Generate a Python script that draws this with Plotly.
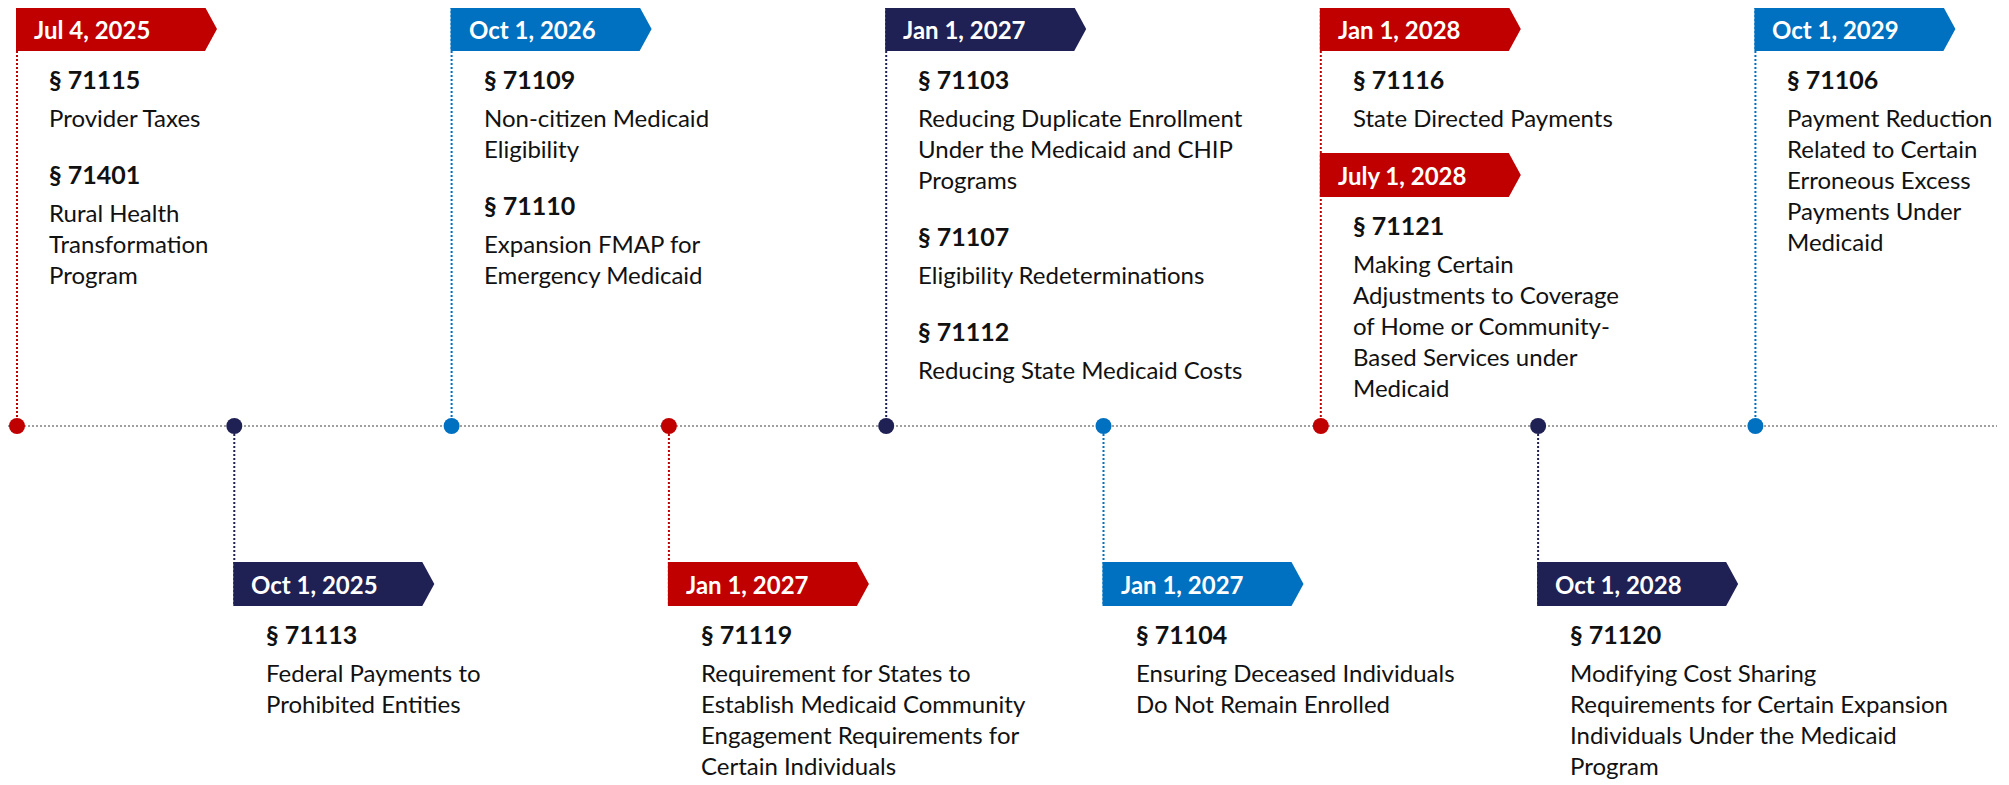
import plotly.graph_objects as go

# ---------------- data ----------------
slot_sides = ["top", "bottom", "top", "bottom", "top", "bottom", "top", "bottom", "top"]
slot_colors = ["red", "navy", "blue", "red", "navy", "blue", "red", "navy", "blue"]

event_slots = [0, 1, 2, 3, 4, 5, 6, 6, 7, 8]
event_dates = ["Jul 4, 2025", "Oct 1, 2025", "Oct 1, 2026", "Jan 1, 2027", "Jan 1, 2027",
               "Jan 1, 2027", "Jan 1, 2028", "July 1, 2028", "Oct 1, 2028", "Oct 1, 2029"]
event_colors = ["red", "navy", "blue", "red", "navy", "blue", "red", "red", "navy", "blue"]
event_sections = [
    [("§ 71115", ["Provider Taxes"]),
     ("§ 71401", ["Rural Health", "Transformation", "Program"])],
    [("§ 71113", ["Federal Payments to", "Prohibited Entities"])],
    [("§ 71109", ["Non-citizen Medicaid", "Eligibility"]),
     ("§ 71110", ["Expansion FMAP for", "Emergency Medicaid"])],
    [("§ 71119", ["Requirement for States to", "Establish Medicaid Community",
                  "Engagement Requirements for", "Certain Individuals"])],
    [("§ 71103", ["Reducing Duplicate Enrollment", "Under the Medicaid and CHIP", "Programs"]),
     ("§ 71107", ["Eligibility Redeterminations"]),
     ("§ 71112", ["Reducing State Medicaid Costs"])],
    [("§ 71104", ["Ensuring Deceased Individuals", "Do Not Remain Enrolled"])],
    [("§ 71116", ["State Directed Payments"])],
    [("§ 71121", ["Making Certain", "Adjustments to Coverage", "of Home or Community-",
                  "Based Services under", "Medicaid"])],
    [("§ 71120", ["Modifying Cost Sharing", "Requirements for Certain Expansion",
                  "Individuals Under the Medicaid", "Program"])],
    [("§ 71106", ["Payment Reduction", "Related to Certain", "Erroneous Excess",
                  "Payments Under", "Medicaid"])],
]

# ---------------- style ----------------
PALETTE = {"red": "#C00000", "navy": "#1F2053", "blue": "#0070C0"}
W, H = 2009, 785
PAGE_OFF = 8          # default body margin of the html page
AXIS_Y = 426
TOP_START = 7
BOTTOM_START = 562
BANNER_H = 44
BANNER_BODY = 189
BANNER_TIP = 12
FONT = "Lato"
FS = 24
FS_HEAD = 25
FS_BANNER = 24
TEXT_DX = 30
HEAD_GAP = 36
BODY_GAP = 39
LINE_GAP = 31
SECTION_GAP = 56
NEXT_BANNER_GAP = 27

fig = go.Figure()
shapes = []
annotations = []

FW = W - PAGE_OFF
# axis line
shapes.append(dict(type="line", xref="paper", yref="y", x0=0, x1=(1997 - PAGE_OFF) / FW,
                   y0=AXIS_Y, y1=AXIS_Y,
                   line=dict(color="#A0A0A0", width=2, dash="2px,2px"), layer="below"))

slot_cursor = {}
slot_first_top = {}
slot_last_bottom = {}
for i, slot in enumerate(event_slots):
    side = slot_sides[slot]
    col = PALETTE[event_colors[i]]
    if slot not in slot_cursor:
        slot_cursor[slot] = TOP_START if side == "top" else BOTTOM_START
        slot_first_top[slot] = slot_cursor[slot]
    y0 = slot_cursor[slot]
    y1 = y0 + BANNER_H
    slot_last_bottom[slot] = y1
    path = (f"M -1,{y0} L {BANNER_BODY - 1},{y0} L {BANNER_BODY + BANNER_TIP - 1},{(y0 + y1) / 2} "
            f"L {BANNER_BODY - 1},{y1} L -1,{y1} Z")
    shapes.append(dict(type="path", xref="x", yref="y", xsizemode="pixel", xanchor=slot,
                       path=path, fillcolor=col, line=dict(width=0), layer="below"))
    annotations.append(dict(x=slot, y=(y0 + y1) / 2, xref="x", yref="y", xanchor="left", yanchor="middle",
                            xshift=15, showarrow=False, text=f"<b>{event_dates[i]}</b>",
                            font=dict(family=FONT, size=FS_BANNER, color="white")))
    base = y1 + HEAD_GAP
    for s, (head, lines) in enumerate(event_sections[i]):
        if s > 0:
            base += SECTION_GAP
        annotations.append(dict(x=slot, y=base - 0.34 * FS_HEAD, xref="x", yref="y", xanchor="left",
                                yanchor="middle", xshift=TEXT_DX, showarrow=False, text=f"<b>{head}</b>",
                                font=dict(family=FONT, size=FS_HEAD, color="#111111")))
        base += BODY_GAP
        for k, ln in enumerate(lines):
            if k > 0:
                base += LINE_GAP
            annotations.append(dict(x=slot, y=base - 0.34 * FS, xref="x", yref="y", xanchor="left",
                                    yanchor="middle", xshift=TEXT_DX, showarrow=False, text=ln,
                                    font=dict(family=FONT, size=FS, color="#111111")))
    slot_cursor[slot] = base + NEXT_BANNER_GAP

# vertical connectors
for slot, side in enumerate(slot_sides):
    col = PALETTE[slot_colors[slot]]
    if side == "top":
        ya, yb = slot_first_top[slot], AXIS_Y
    else:
        ya, yb = AXIS_Y, slot_last_bottom[slot]
    shapes.append(dict(type="line", xref="x", yref="y", x0=slot, x1=slot, y0=ya, y1=yb,
                       line=dict(color=col, width=2, dash="2px,2px"), layer="below"))

# dots
fig.add_trace(go.Scatter(x=list(range(len(slot_sides))), y=[AXIS_Y] * len(slot_sides), mode="markers",
                         marker=dict(size=16, color=[PALETTE[c] for c in slot_colors], line=dict(width=0)),
                         hoverinfo="skip", showlegend=False))

fig.update_layout(width=FW, height=H - PAGE_OFF, margin=dict(l=0, r=0, t=0, b=0),
                  paper_bgcolor="white", plot_bgcolor="white",
                  xaxis=dict(range=[-0.0414, 9.167], visible=False, fixedrange=True),
                  yaxis=dict(range=[H, PAGE_OFF], visible=False, fixedrange=True),
                  shapes=shapes, annotations=annotations, showlegend=False)

fig.write_html("out.html")
